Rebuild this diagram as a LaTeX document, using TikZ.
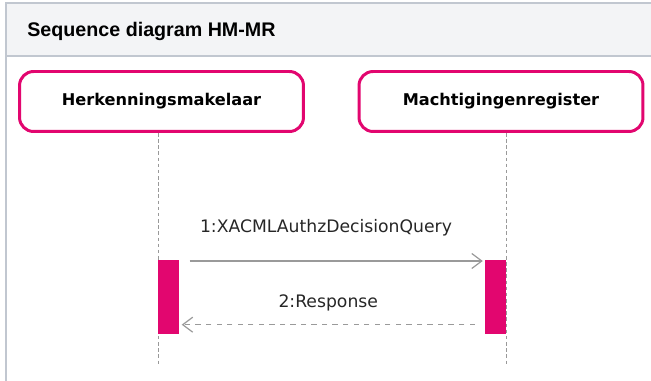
\documentclass[tikz,border=0pt]{standalone}
\usepackage{fontspec}
\setmainfont{DejaVu Sans}
\newfontfamily\titlefont{Liberation Sans}
\usetikzlibrary{arrows.meta,positioning}

\definecolor{seqpink}{HTML}{E2066F}
\definecolor{bandfill}{HTML}{F3F4F6}
\definecolor{bandline}{HTML}{C1C7D0}
\definecolor{msggray}{HTML}{9A9A9A}

\tikzset{
  lifebox/.style={draw=seqpink, line width=1.7pt, rounded corners=8pt, fill=white,
    minimum width=5.68cm, minimum height=1.2cm, inner sep=0pt,
    font=\fontsize{9.2}{11}\selectfont\bfseries},
  actbar/.style={fill=seqpink, minimum width=0.42cm, minimum height=1.48cm, inner sep=0pt},
  lifeline/.style={draw=gray!80, dash pattern=on 2pt off 1.5pt, line width=0.5pt},
  msg/.style={draw=msggray, line width=0.7pt, -{Straight Barb[length=2mm,width=3mm]}},
  msglabel/.style={inner sep=0pt, text=black!85, font=\fontsize{9.8}{12}\selectfont}
}

\begin{document}
\begin{tikzpicture}[x=0.02cm, y=-0.02cm]
  \useasboundingbox (0,0) rectangle (651,381);

  % frame and header
  \fill[bandfill] (6,3) rectangle (651,56);
  \draw[bandline, line width=1.1pt] (651,3) -- (6,3) -- (6,381);
  \draw[bandline, line width=1.1pt] (6,56) -- (651,56);
  \node[anchor=base west, inner sep=0pt, font=\titlefont\fontsize{11.2}{13}\selectfont\bfseries] (title) at (27,37) {Sequence diagram HM-MR};

  % lifelines
  \node[lifebox] (hm) at (161.5,101.5) {Herkenningsmakelaar};
  \node[lifebox] (mr) at (501,101.5) {Machtigingenregister};
  \coordinate (hmtop) at (158.5,133);
  \coordinate (hmend) at (158.5,366);
  \coordinate (mrtop) at (506.7,133);
  \coordinate (mrend) at (506.7,366);
  \draw[lifeline] (hmtop) -- (hmend);
  \draw[lifeline] (mrtop) -- (mrend);

  % activations
  \node[actbar, anchor=north west] (hmbar) at (158,260) {};
  \node[actbar, anchor=north east] (mrbar) at (506.5,260) {};

  % messages
  \draw[msg] ([shift={(10,1)}]hmbar.north east) -- ([shift={(-2,1)}]mrbar.north west)
    node[msglabel, pos=0.465, above=0.48cm] (q1) {1:XACMLAuthzDecisionQuery};
  \draw[msg, dashed] ([shift={(-10,-10)}]mrbar.south west) -- ([shift={(2,-10)}]hmbar.south east)
    node[msglabel, midway, above=0.26cm] (r2) {2:Response};
\end{tikzpicture}
\end{document}
